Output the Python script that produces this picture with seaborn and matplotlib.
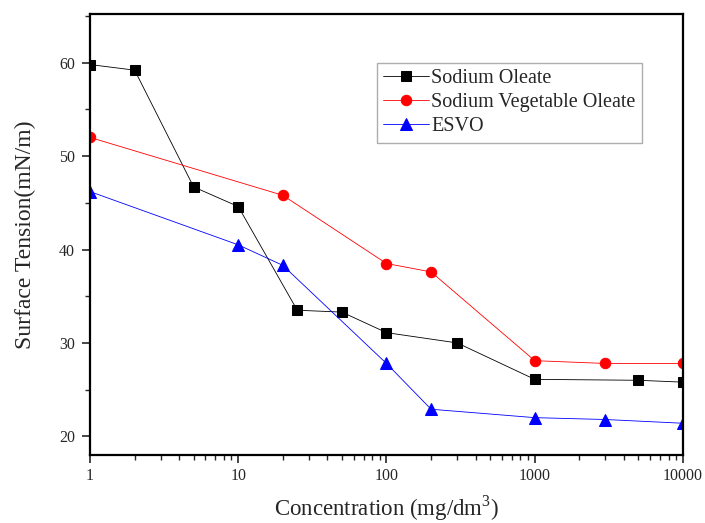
import seaborn as sns
import pandas as pd
import matplotlib
matplotlib.use('Agg')
import matplotlib.pyplot as plt
from matplotlib.ticker import LogLocator, MultipleLocator, NullFormatter

# data
so_conc = [1, 2, 5, 10, 25, 50, 100, 300, 1000, 5000, 10000]
so_tension = [59.8, 59.2, 46.7, 44.6, 33.5, 33.3, 31.1, 30.0, 26.1, 26.0, 25.8]

svo_conc = [1, 20, 100, 200, 1000, 3000, 10000]
svo_tension = [52.0, 45.8, 38.5, 37.6, 28.1, 27.8, 27.8]

esvo_conc = [1, 10, 20, 100, 200, 1000, 3000, 10000]
esvo_tension = [46.2, 40.5, 38.3, 27.8, 22.9, 22.0, 21.8, 21.4]

x_ticks = [1, 10, 100, 1000, 10000]
x_tick_labels = ['1', '10', '100', '1000', '10000']
y_ticks = [20, 30, 40, 50, 60]

sns.set_style('ticks')
plt.rcParams['font.family'] = ['Liberation Serif', 'DejaVu Serif']
plt.rcParams['mathtext.fontset'] = 'custom'
plt.rcParams['mathtext.rm'] = 'Liberation Serif'
plt.rcParams['xtick.direction'] = 'out'
plt.rcParams['ytick.direction'] = 'out'

fig = plt.figure(figsize=(7.05, 5.23), dpi=100)
ax = fig.add_axes([0.1277, 0.130, 0.841, 0.843])

series = [
    ('Sodium Oleate', so_conc, so_tension, 'black', 's', 7),
    ('Sodium Vegetable Oleate', svo_conc, svo_tension, '#ff0000', 'o', 7.5),
    ('ESVO', esvo_conc, esvo_tension, '#0000ff', '^', 8.5),
]
for name, xs, ys, col, mk, ms in series:
    df = pd.DataFrame({'Concentration': xs, 'Tension': ys})
    sns.lineplot(data=df, x='Concentration', y='Tension', ax=ax, color=col,
                 marker=mk, markersize=ms, markeredgecolor=col, linewidth=0.6,
                 label=name)

ax.set_xscale('log')
ax.set_xlim(1, 10000)
ax.set_ylim(18, 65.2)
ax.set_xticks(x_ticks)
ax.set_xticklabels(x_tick_labels)
ax.xaxis.set_minor_locator(LogLocator(base=10, subs=range(2, 10)))
ax.xaxis.set_minor_formatter(NullFormatter())
ax.set_yticks(y_ticks)
ax.yaxis.set_minor_locator(MultipleLocator(5))

ax.tick_params(which='major', length=6, width=1.2, labelsize=11.5)
ax.tick_params(axis='x', which='major', pad=3)
ax.tick_params(axis='y', which='major', pad=5)
ax.tick_params(which='minor', length=3.5, width=1.0)

for sp in ax.spines.values():
    sp.set_linewidth(1.6)
    sp.set_color('black')

ax.set_xlabel(r'Concentration (mg/dm$^{3}$)', fontsize=16.5, labelpad=7)
ax.set_ylabel('Surface Tension(mN/m)', fontsize=17, labelpad=16)

leg = ax.legend(loc='upper left', bbox_to_anchor=(0.484, 0.889), fontsize=14.5,
                frameon=True, fancybox=False, edgecolor='#999999',
                handlelength=2.3, handletextpad=0.1, labelspacing=0.25,
                borderpad=0.3, borderaxespad=0)
leg.get_frame().set_linewidth(1.0)

fig.savefig('out.png', dpi=100)
